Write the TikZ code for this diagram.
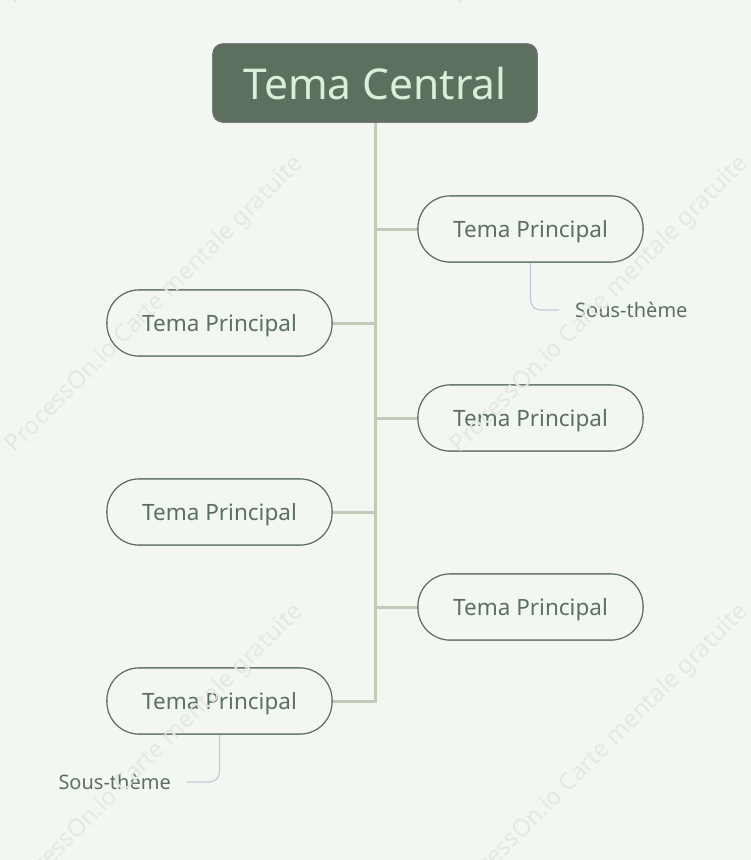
\documentclass[tikz,border=0pt]{standalone}
\usepackage{fontspec}
\setmainfont{Noto Sans}
\definecolor{bgc}{HTML}{F3F7F1}
\definecolor{centfill}{HTML}{5C7060}
\definecolor{centtext}{HTML}{DCEDD8}
\definecolor{centborder}{HTML}{6E6E6E}
\definecolor{topiccol}{HTML}{5C7060}
\definecolor{trunkcol}{HTML}{BFCCB7}
\definecolor{subcol}{HTML}{C9C3D9}
\definecolor{wmcol}{HTML}{E3E8E1}
\begin{document}
\begin{tikzpicture}[x=1pt,y=-1pt,
  central/.style={draw=centborder, line width=1.2pt, fill=centfill, text=centtext,
    rounded corners=10pt, minimum width=324pt, minimum height=78pt, inner sep=0pt,
    text depth=0pt, font=\fontsize{42.5}{48}\selectfont},
  topic/.style={draw=topiccol, line width=1.1pt, fill=bgc, text=topiccol,
    rounded corners=32pt, minimum width=225pt, minimum height=66pt, inner sep=0pt,
    text depth=0pt, font=\fontsize{22.5}{27}\selectfont},
  subtopic/.style={text=topiccol, inner xsep=16pt, inner ysep=2pt,
    font=\fontsize{20}{24}\selectfont},
  trunk/.style={draw=trunkcol, line width=3pt},
  subline/.style={draw=subcol, line width=1.1pt, rounded corners=10pt},
  wm/.style={text=wmcol, rotate=45, font=\fontsize{24}{28}\selectfont}
]
\fill[bgc] (0,0) rectangle (751,860);
\useasboundingbox (0,0) rectangle (751,860);

% connectors first (coordinates from node positions)
\coordinate (cs) at (375,122);
\coordinate (r1p) at (530.5,229);
\coordinate (r2p) at (530.5,418);
\coordinate (r3p) at (530.5,607);
\coordinate (l1p) at (219.5,323);
\coordinate (l2p) at (219.5,512);
\coordinate (l3p) at (219.5,701);

\node[central] (c) at (375,83) {Tema Central};

\node[topic] (r1) at (r1p) {Tema Principal};
\node[topic] (r2) at (r2p) {Tema Principal};
\node[topic] (r3) at (r3p) {Tema Principal};
\node[topic] (l1) at (l1p) {Tema Principal};
\node[topic] (l2) at (l2p) {Tema Principal};
\node[topic] (l3) at (l3p) {Tema Principal};

\node[subtopic, anchor=west] (s1) at (559,310) {Sous-thème};
\node[subtopic, anchor=east] (s2) at (187,782) {Sous-thème};

\draw[trunk] (c.south) -- (c.south |- l3.east) -- (l3.east);
\draw[trunk] (c.south |- r1.west) -- (r1.west);
\draw[trunk] (c.south |- r2.west) -- (r2.west);
\draw[trunk] (c.south |- r3.west) -- (r3.west);
\draw[trunk] (l1.east) -- (c.south |- l1.east);
\draw[trunk] (l2.east) -- (c.south |- l2.east);

\draw[subline] (r1.south) |- (s1.west);
\draw[subline] (l3.south) |- (s2.east);

% redraw nodes over connector ends
\node[central] at (c) {Tema Central};
\foreach \n in {r1,r2,r3,l1,l2,l3} {\node[topic] at (\n) {Tema Principal};}

% watermarks
\foreach \x in {155,600} {
  \foreach \y in {-143,305,753} {
    \node[wm] at (\x,\y) {ProcessOn.io Carte mentale gratuite};
  }
}
\end{tikzpicture}
\end{document}
